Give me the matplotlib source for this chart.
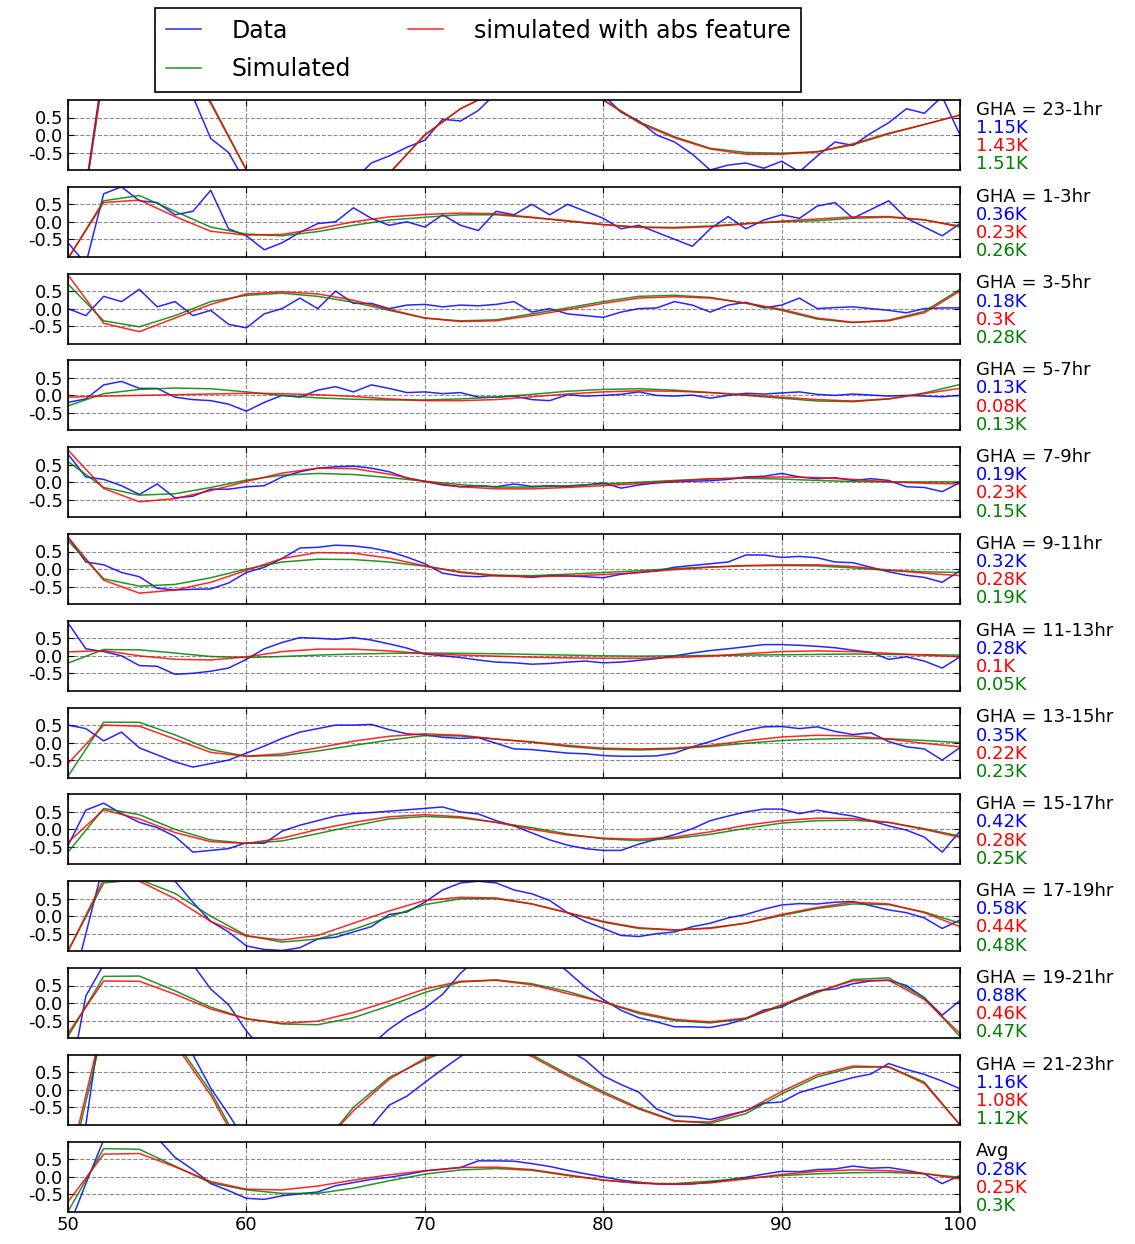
import numpy as np
import matplotlib
matplotlib.use('Agg')
import matplotlib.pyplot as plt

# frequency axes (MHz): data read every 1 MHz, model curves every 2 MHz
freq_data = np.arange(50, 101, 1)
freq_sim = np.arange(50, 101, 2)

# --- GHA 23-1hr
data_23_1 = [-5.0, -1.5, 2.0, 3.0, 3.3, 3.0, 2.4, 1.1, -0.1, -0.5,
             -1.4, -2.0, -2.4, -2.5, -2.3, -2.0, -1.3, -0.8, -0.6, -0.35,
             -0.15, 0.45, 0.4, 0.7, 1.2, 1.5, 1.6, 1.7, 1.6, 1.4,
             1.15, 0.65, 0.4, 0.0, -0.2, -0.55, -1.0, -0.86, -0.8, -0.95,
             -0.75, -1.05, -0.6, -0.2, -0.3, 0.05, 0.35, 0.75, 0.62, 1.1,
             0.0]
sim_23_1 = [-5.0, 1.8, 3.0, 2.5, 0.95, -1.0, -2.2, -2.6, -2.1, -1.1, 0.0, 0.75, 1.25,
            1.5, 1.45, 1.0, 0.38, -0.05, -0.38, -0.5, -0.52, -0.48, -0.28, 0.03, 0.3, 0.57]
abs_23_1 = [-5.0, 1.85, 3.0, 2.45, 0.9, -1.0, -2.2, -2.6, -2.1, -1.1, 0.0, 0.75, 1.25,
            1.5, 1.45, 1.0, 0.35, -0.08, -0.4, -0.55, -0.55, -0.48, -0.25, 0.05, 0.3, 0.57]

# --- GHA 1-3hr
data_1_3 = [-0.6, -1.2, 0.8, 1.0, 0.6, 0.55, 0.2, 0.3, 0.9, -0.2,
            -0.4, -0.8, -0.6, -0.3, -0.05, 0.0, 0.4, 0.1, -0.1, 0.0,
            -0.15, 0.2, -0.1, -0.25, 0.3, 0.2, 0.5, 0.2, 0.5, 0.3,
            0.1, -0.2, -0.1, -0.3, -0.5, -0.7, -0.2, 0.15, -0.2, 0.05,
            0.2, 0.1, 0.45, 0.55, 0.1, 0.35, 0.6, 0.1, -0.15, -0.4,
            -0.05]
sim_1_3 = [-1.05, 0.6, 0.75, 0.3, -0.15, -0.35, -0.4, -0.28, -0.1, 0.05, 0.13, 0.2, 0.2,
           0.12, 0.02, -0.08, -0.15, -0.16, -0.12, -0.05, 0.0, 0.03, 0.1, 0.13, 0.05, -0.12]
abs_1_3 = [-1.05, 0.55, 0.62, 0.15, -0.27, -0.38, -0.36, -0.2, 0.0, 0.14, 0.21, 0.25, 0.23,
           0.13, 0.03, -0.08, -0.16, -0.18, -0.14, -0.06, 0.02, 0.08, 0.14, 0.15, 0.06, -0.15]

# --- GHA 3-5hr
data_3_5 = [0.0, -0.2, 0.35, 0.2, 0.55, 0.05, 0.2, -0.2, -0.05, -0.45,
            -0.55, -0.15, 0.0, 0.3, 0.0, 0.5, 0.15, 0.15, 0.0, 0.1,
            0.12, 0.05, 0.1, 0.08, 0.12, 0.2, -0.1, 0.0, -0.15, -0.2,
            -0.25, -0.1, 0.0, 0.02, 0.2, 0.1, -0.1, 0.1, 0.18, 0.02,
            0.1, 0.3, 0.0, 0.03, 0.05, 0.0, -0.05, -0.12, 0.0, 0.02,
            0.02]
sim_3_5 = [0.7, -0.35, -0.52, -0.2, 0.2, 0.38, 0.44, 0.35, 0.18, -0.05, -0.27, -0.35, -0.32,
           -0.15, 0.02, 0.2, 0.35, 0.38, 0.32, 0.15, -0.05, -0.3, -0.4, -0.33, -0.08, 0.55]
abs_3_5 = [0.96, -0.42, -0.66, -0.27, 0.12, 0.42, 0.48, 0.42, 0.24, -0.02, -0.27, -0.37, -0.35,
           -0.2, -0.03, 0.15, 0.3, 0.34, 0.3, 0.16, -0.02, -0.27, -0.39, -0.35, -0.12, 0.5]

# --- GHA 5-7hr
data_5_7 = [-0.2, -0.1, 0.3, 0.4, 0.2, 0.2, -0.05, -0.12, -0.15, -0.25,
            -0.45, -0.2, 0.0, -0.05, 0.15, 0.25, 0.1, 0.3, 0.2, 0.08,
            0.1, 0.05, 0.08, -0.05, -0.05, -0.02, -0.12, -0.15, 0.02, -0.02,
            0.0, 0.03, 0.1, 0.0, -0.02, 0.01, -0.08, 0.0, 0.06, 0.04,
            0.07, 0.1, 0.03, 0.0, 0.04, 0.01, -0.02, 0.0, -0.02, -0.04,
            0.0]
sim_5_7 = [-0.3, 0.05, 0.17, 0.21, 0.19, 0.1, 0.0, -0.07, -0.11, -0.13, -0.13, -0.1, -0.05,
           0.03, 0.12, 0.17, 0.19, 0.15, 0.08, 0.0, -0.08, -0.16, -0.18, -0.1, 0.07, 0.31]
abs_5_7 = [-0.05, -0.02, 0.0, 0.02, 0.04, 0.06, 0.05, 0.02, -0.03, -0.1, -0.15, -0.15, -0.12,
           -0.04, 0.04, 0.1, 0.13, 0.12, 0.08, 0.02, -0.05, -0.12, -0.16, -0.1, 0.05, 0.2]

# --- GHA 7-9hr
data_7_9 = [0.8, 0.15, 0.08, -0.1, -0.35, -0.05, -0.45, -0.4, -0.2, -0.2,
            -0.13, -0.1, 0.15, 0.3, 0.4, 0.44, 0.46, 0.4, 0.3, 0.12,
            0.02, -0.08, -0.13, -0.1, -0.13, -0.05, -0.12, -0.1, -0.12, -0.08,
            -0.02, -0.17, -0.08, -0.02, 0.01, 0.03, 0.04, 0.08, 0.15, 0.17,
            0.25, 0.15, 0.1, 0.13, 0.05, 0.1, 0.05, -0.13, -0.15, -0.27,
            -0.01]
sim_7_9 = [0.59, -0.15, -0.37, -0.33, -0.15, 0.06, 0.2, 0.25, 0.22, 0.13, 0.03, -0.07, -0.14,
           -0.14, -0.1, -0.05, 0.0, 0.05, 0.1, 0.11, 0.09, 0.05, 0.02, 0.01, 0.01, 0.01]
abs_7_9 = [0.92, -0.18, -0.56, -0.47, -0.24, 0.02, 0.26, 0.4, 0.39, 0.23, 0.02, -0.13, -0.19,
           -0.19, -0.15, -0.1, -0.04, 0.03, 0.09, 0.13, 0.15, 0.13, 0.08, 0.01, -0.03, -0.05]

# --- GHA 9-11hr
data_9_11 = [0.91, 0.2, 0.12, -0.1, -0.22, -0.55, -0.6, -0.58, -0.57, -0.4,
             -0.1, 0.05, 0.3, 0.6, 0.62, 0.68, 0.66, 0.6, 0.5, 0.34,
             0.15, -0.12, -0.2, -0.22, -0.18, -0.2, -0.24, -0.18, -0.2, -0.22,
             -0.25, -0.15, -0.1, -0.05, 0.05, 0.1, 0.15, 0.2, 0.4, 0.4,
             0.33, 0.36, 0.32, 0.2, 0.18, 0.05, -0.08, -0.18, -0.24, -0.38,
             -0.05]
sim_9_11 = [0.81, -0.28, -0.49, -0.44, -0.25, 0.0, 0.2, 0.28, 0.27, 0.2, 0.08, -0.08, -0.18,
            -0.19, -0.15, -0.1, -0.05, 0.01, 0.06, 0.09, 0.1, 0.09, 0.03, -0.04, -0.08, -0.1]
abs_9_11 = [0.91, -0.32, -0.69, -0.6, -0.38, -0.04, 0.3, 0.47, 0.45, 0.31, 0.09, -0.1, -0.2,
            -0.22, -0.2, -0.16, -0.1, -0.02, 0.05, 0.1, 0.12, 0.12, 0.07, -0.03, -0.12, -0.19]

# --- GHA 11-13hr
data_11_13 = [0.94, 0.2, 0.12, 0.0, -0.28, -0.3, -0.53, -0.5, -0.44, -0.35,
              -0.1, 0.2, 0.38, 0.52, 0.5, 0.47, 0.52, 0.45, 0.34, 0.22,
              0.05, 0.0, -0.05, -0.12, -0.18, -0.2, -0.24, -0.22, -0.18, -0.15,
              -0.2, -0.18, -0.13, -0.08, 0.0, 0.08, 0.15, 0.2, 0.26, 0.32,
              0.32, 0.3, 0.27, 0.23, 0.16, 0.1, -0.1, -0.03, -0.15, -0.35,
              -0.03]
sim_11_13 = [-0.21, 0.18, 0.17, 0.08, -0.02, -0.05, -0.02, 0.02, 0.05, 0.07, 0.08, 0.07, 0.06,
             0.04, 0.02, 0.0, -0.01, 0.0, 0.01, 0.02, 0.03, 0.04, 0.05, 0.04, 0.03, 0.02]
abs_11_13 = [0.11, 0.15, 0.0, -0.1, -0.12, -0.03, 0.12, 0.19, 0.19, 0.14, 0.06, 0.02, -0.01,
             -0.04, -0.06, -0.07, -0.07, -0.05, -0.01, 0.06, 0.12, 0.14, 0.12, 0.07, 0.02, -0.03]

# --- GHA 13-15hr
data_13_15 = [0.5, 0.4, 0.05, 0.3, -0.15, -0.35, -0.55, -0.7, -0.6, -0.5,
              -0.3, -0.1, 0.12, 0.3, 0.4, 0.5, 0.5, 0.52, 0.37, 0.25,
              0.22, 0.15, 0.12, 0.14, -0.02, -0.18, -0.2, -0.25, -0.3, -0.32,
              -0.37, -0.39, -0.39, -0.38, -0.3, -0.12, 0.03, 0.2, 0.35, 0.45,
              0.46, 0.4, 0.45, 0.32, 0.23, 0.28, 0.03, -0.12, -0.18, -0.5,
              -0.14]
sim_13_15 = [-0.96, 0.58, 0.58, 0.22, -0.2, -0.39, -0.37, -0.24, -0.08, 0.07, 0.2, 0.19, 0.1,
             0.01, -0.11, -0.19, -0.21, -0.18, -0.11, -0.02, 0.06, 0.1, 0.12, 0.11, 0.06, 0.0]
abs_13_15 = [-0.6, 0.5, 0.47, 0.1, -0.28, -0.39, -0.32, -0.15, 0.04, 0.18, 0.25, 0.21, 0.1,
             0.02, -0.08, -0.16, -0.18, -0.16, -0.08, 0.05, 0.16, 0.21, 0.19, 0.1, -0.02, -0.12]

# --- GHA 15-17hr
data_15_17 = [-0.46, 0.55, 0.75, 0.45, 0.2, 0.05, -0.2, -0.65, -0.6, -0.55,
              -0.38, -0.4, -0.05, 0.12, 0.25, 0.38, 0.45, 0.48, 0.52, 0.56,
              0.6, 0.64, 0.5, 0.44, 0.25, 0.1, -0.1, -0.3, -0.45, -0.55,
              -0.6, -0.6, -0.42, -0.28, -0.15, 0.02, 0.25, 0.38, 0.5, 0.58,
              0.58, 0.45, 0.55, 0.46, 0.38, 0.25, 0.1, -0.02, -0.22, -0.65,
              -0.05]
sim_15_17 = [-0.65, 0.6, 0.42, 0.0, -0.3, -0.4, -0.33, -0.12, 0.1, 0.3, 0.37, 0.33, 0.2,
             0.05, -0.13, -0.27, -0.32, -0.26, -0.14, 0.03, 0.18, 0.25, 0.26, 0.2, 0.02, -0.19]
abs_15_17 = [-0.37, 0.56, 0.3, -0.09, -0.35, -0.4, -0.25, 0.0, 0.2, 0.36, 0.42, 0.36, 0.2,
             0.0, -0.16, -0.25, -0.28, -0.22, -0.07, 0.12, 0.25, 0.32, 0.31, 0.2, 0.0, -0.23]

# --- GHA 17-19hr
data_17_19 = [-2.5, -0.5, 1.5, 2.0, 1.8, 1.5, 1.0, 0.4, -0.15, -0.45,
              -0.85, -0.95, -0.98, -0.9, -0.65, -0.6, -0.45, -0.3, 0.05, 0.12,
              0.4, 0.75, 0.95, 1.0, 0.95, 0.75, 0.64, 0.45, 0.1, -0.15,
              -0.35, -0.55, -0.58, -0.5, -0.45, -0.3, -0.2, -0.05, 0.05, 0.2,
              0.32, 0.36, 0.35, 0.4, 0.42, 0.3, 0.18, 0.1, -0.05, -0.35,
              -0.11]
sim_17_19 = [-1.0, 0.95, 1.05, 0.65, 0.0, -0.55, -0.74, -0.65, -0.38, -0.02, 0.33, 0.5, 0.5,
             0.35, 0.1, -0.17, -0.35, -0.4, -0.33, -0.2, 0.02, 0.22, 0.35, 0.33, 0.12, -0.2]
abs_17_19 = [-1.0, 1.05, 1.0, 0.5, -0.15, -0.57, -0.68, -0.55, -0.2, 0.15, 0.45, 0.54, 0.52,
             0.35, 0.1, -0.15, -0.33, -0.39, -0.35, -0.2, 0.05, 0.25, 0.4, 0.35, 0.1, -0.3]

# --- GHA 19-21hr
data_19_21 = [-2.5, 0.2, 1.1, 2.0, 2.5, 2.3, 1.8, 1.1, 0.4, -0.05,
              -0.8, -1.4, -1.8, -2.0, -2.0, -1.8, -1.5, -1.2, -0.75, -0.4,
              -0.15, 0.25, 0.85, 1.3, 1.6, 1.7, 1.6, 1.3, 0.9, 0.45,
              0.1, -0.21, -0.42, -0.54, -0.68, -0.68, -0.7, -0.6, -0.45, -0.2,
              -0.12, 0.15, 0.35, 0.4, 0.55, 0.63, 0.65, 0.5, 0.15, -0.35,
              0.07]
sim_19_21 = [-0.96, 0.76, 0.77, 0.35, -0.12, -0.45, -0.6, -0.62, -0.42, -0.08, 0.3, 0.6, 0.66,
             0.55, 0.33, 0.03, -0.3, -0.5, -0.57, -0.45, -0.08, 0.3, 0.67, 0.72, 0.15, -0.96]
abs_19_21 = [-0.87, 0.63, 0.62, 0.25, -0.17, -0.45, -0.58, -0.52, -0.27, 0.05, 0.4, 0.62, 0.65,
             0.52, 0.27, 0.03, -0.26, -0.47, -0.54, -0.43, -0.05, 0.33, 0.63, 0.65, 0.1, -0.87]

# --- GHA 21-23hr
data_21_23 = [-3.0, -1.0, 2.5, 3.2, 3.3, 2.8, 2.0, 1.0, 0.05, -0.7,
              -1.5, -2.2, -2.6, -2.7, -2.5, -2.1, -1.6, -1.05, -0.44, -0.18,
              0.21, 0.59, 0.95, 1.3, 1.5, 1.6, 1.55, 1.35, 1.15, 0.85,
              0.4, 0.15, -0.07, -0.55, -0.75, -0.77, -0.85, -0.72, -0.6, -0.38,
              -0.35, -0.08, 0.07, 0.21, 0.35, 0.45, 0.75, 0.58, 0.44, 0.25,
              0.03]
sim_21_23 = [-2.5, 1.8, 3.0, 1.4, -0.05, -1.9, -2.8, -1.75, -0.5, 0.35, 0.85, 1.28, 1.35,
             1.0, 0.45, -0.05, -0.52, -0.88, -0.96, -0.68, -0.12, 0.37, 0.64, 0.66, 0.22, -1.0]
abs_21_23 = [-2.3, 2.0, 3.0, 1.3, -0.15, -2.0, -2.8, -1.7, -0.6, 0.3, 0.9, 1.3, 1.35,
             0.95, 0.4, -0.1, -0.55, -0.9, -0.92, -0.6, -0.05, 0.43, 0.68, 0.65, 0.18, -1.0]

# --- Avg
data_avg = [-1.5, -0.2, 1.05, 1.4, 1.4, 1.1, 0.55, 0.2, -0.2, -0.4,
            -0.62, -0.65, -0.55, -0.49, -0.44, -0.26, -0.17, -0.08, -0.02, 0.06,
            0.16, 0.21, 0.26, 0.45, 0.45, 0.44, 0.37, 0.29, 0.18, 0.08,
            -0.01, -0.1, -0.16, -0.21, -0.22, -0.21, -0.16, -0.09, -0.02, 0.07,
            0.15, 0.14, 0.2, 0.22, 0.3, 0.24, 0.26, 0.18, 0.08, -0.2,
            0.03]
sim_avg = [-1.0, 0.8, 0.78, 0.3, -0.18, -0.38, -0.48, -0.48, -0.33, -0.12, 0.07, 0.19, 0.23,
           0.18, 0.03, -0.1, -0.19, -0.2, -0.13, -0.05, 0.03, 0.08, 0.11, 0.12, 0.08, -0.02]
abs_avg = [-0.72, 0.64, 0.66, 0.28, -0.14, -0.36, -0.38, -0.27, -0.1, 0.05, 0.17, 0.26, 0.27,
           0.2, 0.05, -0.1, -0.19, -0.22, -0.18, -0.07, 0.06, 0.15, 0.19, 0.17, 0.09, -0.07]

gha_labels = ['GHA = 23-1hr', 'GHA = 1-3hr', 'GHA = 3-5hr', 'GHA = 5-7hr', 'GHA = 7-9hr',
              'GHA = 9-11hr', 'GHA = 11-13hr', 'GHA = 13-15hr', 'GHA = 15-17hr',
              'GHA = 17-19hr', 'GHA = 19-21hr', 'GHA = 21-23hr', 'Avg']
rms_data = ['1.15K', '0.36K', '0.18K', '0.13K', '0.19K', '0.32K', '0.28K',
            '0.35K', '0.42K', '0.58K', '0.88K', '1.16K', '0.28K']
rms_abs = ['1.43K', '0.23K', '0.3K', '0.08K', '0.23K', '0.28K', '0.1K',
           '0.22K', '0.28K', '0.44K', '0.46K', '1.08K', '0.25K']
rms_sim = ['1.51K', '0.26K', '0.28K', '0.13K', '0.15K', '0.19K', '0.05K',
           '0.23K', '0.25K', '0.48K', '0.47K', '1.12K', '0.3K']

all_data = [data_23_1, data_1_3, data_3_5, data_5_7, data_7_9, data_9_11, data_11_13,
            data_13_15, data_15_17, data_17_19, data_19_21, data_21_23, data_avg]
all_sim = [sim_23_1, sim_1_3, sim_3_5, sim_5_7, sim_7_9, sim_9_11, sim_11_13,
           sim_13_15, sim_15_17, sim_17_19, sim_19_21, sim_21_23, sim_avg]
all_abs = [abs_23_1, abs_1_3, abs_3_5, abs_5_7, abs_7_9, abs_9_11, abs_11_13,
           abs_13_15, abs_15_17, abs_17_19, abs_19_21, abs_21_23, abs_avg]


def make_plot():
    plt.rcParams['axes.unicode_minus'] = False
    W, H = 1135.0, 1244.0
    fig = plt.figure(figsize=(W / 100, H / 100), dpi=100)

    n = len(gha_labels)
    for i in range(n):
        top = 100 + 86.8 * i
        ax = fig.add_axes([68 / W, 1 - (top + 70) / H, 892 / W, 70 / H])
        ld, = ax.plot(freq_data, all_data[i], color='b', lw=1.1, alpha=0.85)
        ls, = ax.plot(freq_sim, all_sim[i], color='g', lw=1.1, alpha=0.85)
        la, = ax.plot(freq_sim, all_abs[i], color='r', lw=1.1, alpha=0.85)

        ax.set_xlim(50, 100)
        ax.set_ylim(-1, 1)
        ax.set_xticks([50, 60, 70, 80, 90, 100])
        ax.set_yticks([-0.5, 0.0, 0.5])
        ax.set_yticklabels(['-0.5', '0.0', '0.5'])
        ax.tick_params(direction='in', top=True, right=True, length=4,
                       labelsize=13, labelbottom=(i == n - 1))
        ax.grid(True, linestyle='--', color='0.55', linewidth=0.8)
        for sp in ax.spines.values():
            sp.set_linewidth(1.2)

        ax.text(1.018, 0.86, gha_labels[i], transform=ax.transAxes,
                fontsize=13, va='center', color='k')
        ax.text(1.018, 0.60, rms_data[i], transform=ax.transAxes,
                fontsize=13, va='center', color='b')
        ax.text(1.018, 0.34, rms_abs[i], transform=ax.transAxes,
                fontsize=13, va='center', color='r')
        ax.text(1.018, 0.08, rms_sim[i], transform=ax.transAxes,
                fontsize=13, va='center', color='g')

        if i == 0:
            handles = [ld, ls, la]

    leg = fig.legend(handles, ['Data', 'Simulated', 'simulated with abs feature'],
                     loc='upper left', bbox_to_anchor=(155 / W, 1 - 8 / H),
                     borderaxespad=0, ncol=2, fontsize=17, fancybox=False,
                     edgecolor='k', framealpha=1, handlelength=1.5,
                     handletextpad=1.3, columnspacing=2.4, borderpad=0.45,
                     labelspacing=0.62)
    leg.get_frame().set_linewidth(1.2)

    fig.savefig('out.png', dpi=100)


def main():
    make_plot()


if __name__ == "__main__":
    main()
